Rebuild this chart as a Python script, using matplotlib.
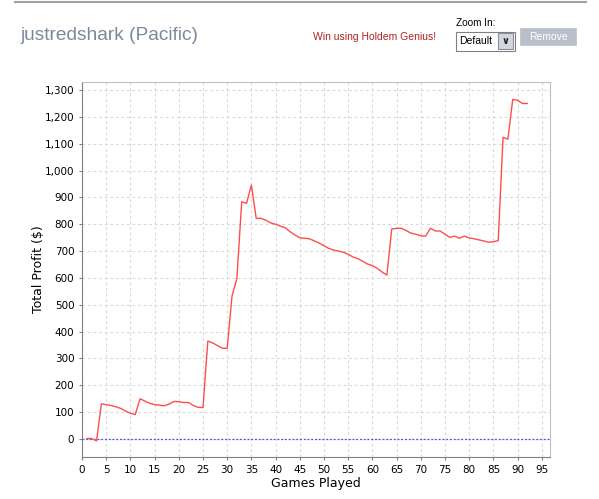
import matplotlib.pyplot as plt
from matplotlib.patches import Rectangle
from matplotlib.ticker import FuncFormatter, MultipleLocator

# cumulative profit per game
games = list(range(1, 93))
profit = [
    2, 2, -7, 131, 128, 125, 120, 114, 104, 96,
    91, 150, 141, 133, 128, 126, 124, 130, 140, 139,
    136, 136, 125, 118, 117, 365, 358, 348, 338, 338,
    533, 598, 884, 878, 946, 822, 822, 815, 805, 800,
    793, 787, 772, 760, 750, 748, 746, 738, 730, 720,
    710, 704, 700, 696, 688, 678, 672, 662, 652, 646,
    636, 622, 611, 782, 785, 785, 776, 767, 763, 757,
    756, 785, 775, 775, 763, 751, 756, 748, 756, 749,
    746, 742, 738, 733, 735, 739, 1124, 1117, 1265, 1262,
    1250, 1250,
]

player = "justredshark (Pacific)"
promo = "Win using Holdem Genius!"

fig = plt.figure(figsize=(5.99, 4.99), dpi=100)
W, H = 599, 499


def fx(px):
    return px / W


def fy(py):
    return 1 - py / H


# page header
fig.add_artist(plt.Line2D([fx(15), fx(586)], [fy(1.5), fy(1.5)], color="#a0a0a0", lw=1.5))
fig.text(fx(20), fy(36), player, fontsize=13.8, color="#7b8a99",
         family="Liberation Sans", va="center", ha="left")
fig.text(fx(313), fy(37), promo, fontsize=7.5, color="#b02020",
         family="Liberation Sans", va="center", ha="left")
fig.text(fx(456), fy(23), "Zoom In:", fontsize=7.2, color="black",
         family="Liberation Sans", va="center", ha="left")
fig.add_artist(Rectangle((fx(455.5), fy(51)), fx(59), 19 / H, transform=fig.transFigure,
                         facecolor="white", edgecolor="#808080", lw=0.8))
fig.text(fx(459), fy(41.5), "Default", fontsize=7.5, color="black",
         family="Liberation Sans", va="center", ha="left")
fig.add_artist(Rectangle((fx(498), fy(49)), fx(15), 16 / H, transform=fig.transFigure,
                         facecolor="#d6d6e0", edgecolor="#8890a0", lw=0.8))
fig.text(fx(505.5), fy(41), "\u2228", fontsize=7, color="#202020", weight="bold",
         va="center", ha="center")
fig.add_artist(Rectangle((fx(520), fy(45)), fx(56), 17 / H, transform=fig.transFigure,
                         facecolor="#b8c0cc", edgecolor="#b8c0cc", lw=0.5))
fig.text(fx(548), fy(36.5), "Remove", fontsize=7.5, color="white",
         family="Liberation Sans", va="center", ha="center")

ax = fig.add_axes([fx(82), fy(457), fx(468), 375 / H])

ax.plot(games, profit, color="#ff4d4d", lw=1.0, zorder=3)
ax.axhline(0, color="#4d4dff", lw=0.9, ls=(0, (1.5, 1.5)), zorder=2)

ax.set_xlim(0, 96.7)
ax.set_ylim(-67, 1330)
ax.xaxis.set_major_locator(MultipleLocator(5))
ax.yaxis.set_major_locator(MultipleLocator(100))
ax.yaxis.set_major_formatter(FuncFormatter(lambda v, _: f"{int(v):,}"))

ax.grid(True, color="#d9d9d9", lw=0.8, ls=(0, (2.5, 2.5)))
ax.set_axisbelow(True)

for side in ("left", "bottom"):
    ax.spines[side].set_color("#808080")
for side in ("top", "right"):
    ax.spines[side].set_color("#c0c0c0")

ax.tick_params(axis="both", length=2.5, width=0.8, color="#808080", labelsize=7.5,
               labelcolor="black", pad=3)
ax.set_xlabel("Games Played", fontsize=9, labelpad=2)
ax.set_ylabel("Total Profit ($)", fontsize=9, labelpad=-0.5)

fig.savefig("out.png", dpi=100)
